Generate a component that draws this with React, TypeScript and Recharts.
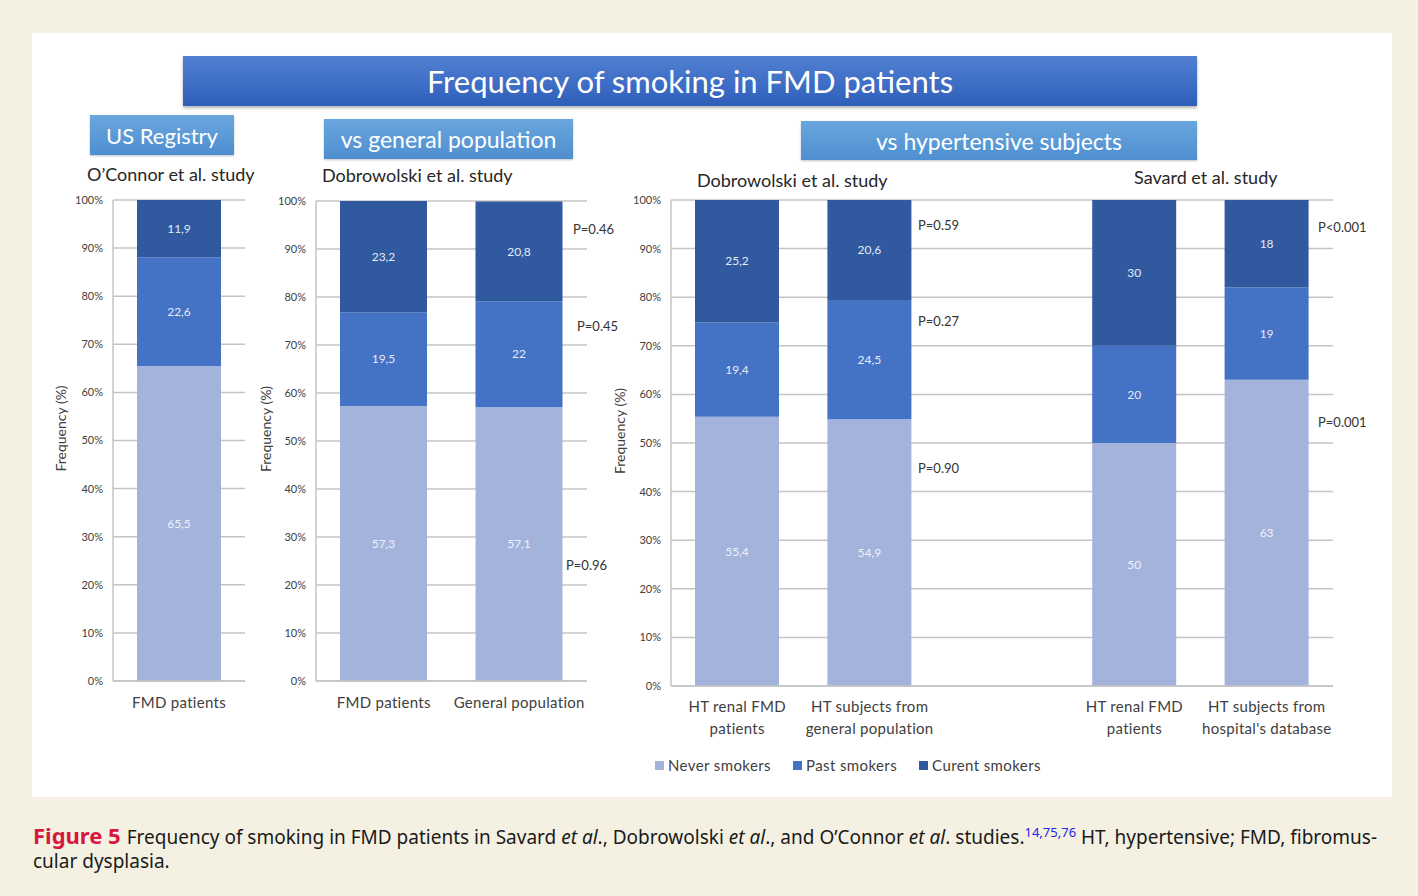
import React from 'react';
import { BarChart, Bar, XAxis, YAxis, CartesianGrid, LabelList } from 'recharts';

// O'Connor et al. (US Registry)
const oconnorCategories = ['FMD patients'];
const oconnorNever = [65.5];
const oconnorPast = [22.6];
const oconnorCurrent = [11.9];

// Dobrowolski et al. vs general population
const generalCategories = ['FMD patients', 'General population'];
const generalNever = [57.3, 57.1];
const generalPast = [19.5, 22];
const generalCurrent = [23.2, 20.8];

// Hypertensive subjects (Dobrowolski, gap, Savard)
const htCategories = [
    'HT renal FMD\npatients',
    'HT subjects from\ngeneral population',
    '',
    'HT renal FMD\npatients',
    "HT subjects from\nhospital's database",
];
const htNever = [55.4, 54.9, null, 50, 63];
const htPast = [19.4, 24.5, null, 20, 19];
const htCurrent = [25.2, 20.6, null, 30, 18];

const yTicks = [0, 10, 20, 30, 40, 50, 60, 70, 80, 90, 100];

const series = [
    { key: 'never', name: 'Never smokers', color: '#a4b3dc', labelColor: '#eef1f8' },
    { key: 'past', name: 'Past smokers', color: '#4472c4', labelColor: '#e4ebf7' },
    { key: 'current', name: 'Curent smokers', color: '#30599f', labelColor: '#e4ebf7' },
];

const FONT = 'Lato, "Open Sans", sans-serif';
const GRID = '#c4c4c4';

function buildRows(cats: string[], never: (number | null)[], past: (number | null)[], current: (number | null)[]) {
    return cats.map((c, i) => ({ name: c, never: never[i], past: past[i], current: current[i] }));
}

const fmt = (v: any) => (v == null ? '' : String(v).replace('.', ','));

function MultiTick(props: any) {
    const { x, y, payload, first = 27, next = 22 } = props;
    const lines = String(payload.value).split('\n');
    return (
        <text x={x} y={y} textAnchor="middle" fill="#404040" fontSize={15} fontFamily={FONT} letterSpacing={0.3}>
            {lines.map((l, i) => (
                <tspan key={i} x={x} dy={i === 0 ? first : next}>
                    {l}
                </tspan>
            ))}
        </text>
    );
}

function yLabel(offsetX: number) {
    return {
        content: (p: any) => {
            const vb = p.viewBox;
            const cx = vb.x + offsetX;
            const cy = vb.y + vb.height / 2 - 12;
            return (
                <text
                    x={cx}
                    y={cy}
                    transform={`rotate(-90 ${cx} ${cy})`}
                    textAnchor="middle"
                    dominantBaseline="middle"
                    fontSize={14}
                    fill="#404040"
                    fontFamily={FONT}
                >
                    Frequency (%)
                </text>
            );
        },
    };
}

function StackChart(props: any) {
    const { data, width, height, yWidth, plotHeight, barSize, xHeight, labelX, first, next, right } = props;
    return (
        <BarChart
            width={width}
            height={height}
            data={data}
            margin={{ top: 15, right: right, bottom: height - 15 - plotHeight - xHeight, left: 0 }}
        >
            <CartesianGrid vertical={false} stroke={GRID} strokeWidth={1.5} />
            <XAxis
                dataKey="name"
                height={xHeight}
                tickLine={false}
                axisLine={{ stroke: GRID, strokeWidth: 1.5 }}
                tickSize={0}
                tickMargin={0}
                interval={0}
                tick={<MultiTick first={first} next={next} />}
            />
            <YAxis
                width={yWidth}
                domain={[0, 100]}
                ticks={yTicks}
                tickFormatter={(v: number) => `${v}%`}
                tickLine={false}
                tickSize={0}
                tickMargin={10}
                axisLine={{ stroke: GRID, strokeWidth: 1.5 }}
                tick={{ fontSize: 11, fill: '#404040', fontFamily: FONT }}
                label={yLabel(labelX)}
            />
            {series.map((s) => (
                <Bar key={s.key} dataKey={s.key} stackId="a" fill={s.color} barSize={barSize} isAnimationActive={false}>
                    <LabelList
                        dataKey={s.key}
                        position="center"
                        formatter={fmt}
                        fill={s.labelColor}
                        fontSize={12}
                        fontFamily={FONT}
                    />
                </Bar>
            ))}
        </BarChart>
    );
}

const box = (left: number, top: number, width: number, height: number, size = 23): React.CSSProperties => ({
    position: 'absolute',
    left,
    top,
    width,
    height,
    background: 'linear-gradient(#6aa6de, #4f8fd0)',
    color: '#ffffff',
    fontSize: size,
    fontFamily: FONT,
    display: 'flex',
    alignItems: 'center',
    justifyContent: 'center',
    boxShadow: '0 1px 2px rgba(0,0,0,0.25)',
});

const sub = (left: number, top: number): React.CSSProperties => ({
    position: 'absolute',
    left,
    top,
    fontSize: 18,
    fontFamily: FONT,
    color: '#262626',
    whiteSpace: 'nowrap',
});

const pStyle = (left: number, top: number): React.CSSProperties => ({
    position: 'absolute',
    left,
    top: top - 9,
    fontSize: 13,
    fontFamily: FONT,
    color: '#333333',
    whiteSpace: 'nowrap',
});

const capLine = (top: number): React.CSSProperties => ({
    position: 'absolute',
    left: 33,
    top,
    whiteSpace: 'nowrap',
    fontSize: 19,
    lineHeight: '29px',
    fontFamily: '"Noto Sans", sans-serif',
    color: '#1a1a1a',
});

const it: React.CSSProperties = { fontStyle: 'italic' };

export default function App() {
    const d1 = buildRows(oconnorCategories, oconnorNever, oconnorPast, oconnorCurrent);
    const d2 = buildRows(generalCategories, generalNever, generalPast, generalCurrent);
    const d3 = buildRows(htCategories, htNever, htPast, htCurrent);

    return (
        <div
            style={{
                position: 'absolute',
                left: 0,
                top: 0,
                width: 1418,
                height: 896,
                background: '#f4f1e3',
                overflow: 'hidden',
            }}
        >
            <div style={{ position: 'absolute', left: 32, top: 33, width: 1360, height: 764, background: '#ffffff' }} />

            <div
                style={{
                    ...box(183, 56, 1014, 50),
                    background: 'linear-gradient(#5180d3, #2e5fb9)',
                    fontSize: 31,
                    boxShadow: '0 2px 3px rgba(0,0,0,0.3)',
                }}
            >
                Frequency of smoking in FMD patients
            </div>
            <div style={box(90, 115, 144, 40, 22)}>US Registry</div>
            <div style={box(324, 119, 249, 40)}>vs general population</div>
            <div style={box(801, 121, 396, 39)}>vs hypertensive subjects</div>

            <div style={sub(87, 163)}>O’Connor et al. study</div>
            <div style={sub(322, 164)}>Dobrowolski et al. study</div>
            <div style={sub(697, 169)}>Dobrowolski et al. study</div>
            <div style={sub(1134, 166)}>Savard et al. study</div>

            <div style={{ position: 'absolute', left: 40, top: 185 }}>
                <StackChart data={d1} width={215} height={536} yWidth={73} plotHeight={481} barSize={84} xHeight={40} labelX={22} first={27} next={22} right={10} />
            </div>
            <div style={{ position: 'absolute', left: 250, top: 186 }}>
                <StackChart data={d2} width={377} height={535} yWidth={66} plotHeight={480} barSize={87} xHeight={40} labelX={17} first={27} next={22} right={40} />
            </div>
            <div style={{ position: 'absolute', left: 600, top: 185 }}>
                <StackChart data={d3} width={743} height={561} yWidth={71} plotHeight={486} barSize={84} xHeight={60} labelX={21} first={26} next={22} right={10} />
            </div>

            <div style={pStyle(573, 230)}>P=0.46</div>
            <div style={pStyle(577, 327)}>P=0.45</div>
            <div style={pStyle(566, 566)}>P=0.96</div>
            <div style={pStyle(918, 226)}>P=0.59</div>
            <div style={pStyle(918, 322)}>P=0.27</div>
            <div style={pStyle(918, 469)}>P=0.90</div>
            <div style={pStyle(1318, 228)}>P&lt;0.001</div>
            <div style={pStyle(1318, 423)}>P=0.001</div>

            <div
                style={{
                    position: 'absolute',
                    left: 655,
                    top: 756,
                    display: 'flex',
                    gap: 22,
                    fontSize: 15,
                    letterSpacing: 0.4,
                    fontFamily: FONT,
                    color: '#404040',
                }}
            >
                {series.map((s) => (
                    <div key={s.key} style={{ display: 'flex', alignItems: 'center', gap: 4 }}>
                        <span style={{ width: 9, height: 9, background: s.color, display: 'inline-block' }} />
                        <span>{s.name}</span>
                    </div>
                ))}
            </div>

            <div style={capLine(818)}>
                <span style={{ color: '#d7173d', fontWeight: 'bold', fontSize: 22, marginRight: 6 }}>Figure 5</span>
                <span>Frequency of smoking in FMD patients in Savard </span>
                <span style={it}>et al</span>
                <span>., Dobrowolski </span>
                <span style={it}>et al</span>
                <span>., and O’Connor </span>
                <span style={it}>et al</span>
                <span>. studies.</span>
                <sup style={{ color: '#2424e0', fontSize: 13 }}>14,75,76</sup>
                <span> HT, hypertensive; FMD, fibromus-</span>
            </div>
            <div style={capLine(847)}>
                <span>cular dysplasia.</span>
            </div>
        </div>
    );
}
